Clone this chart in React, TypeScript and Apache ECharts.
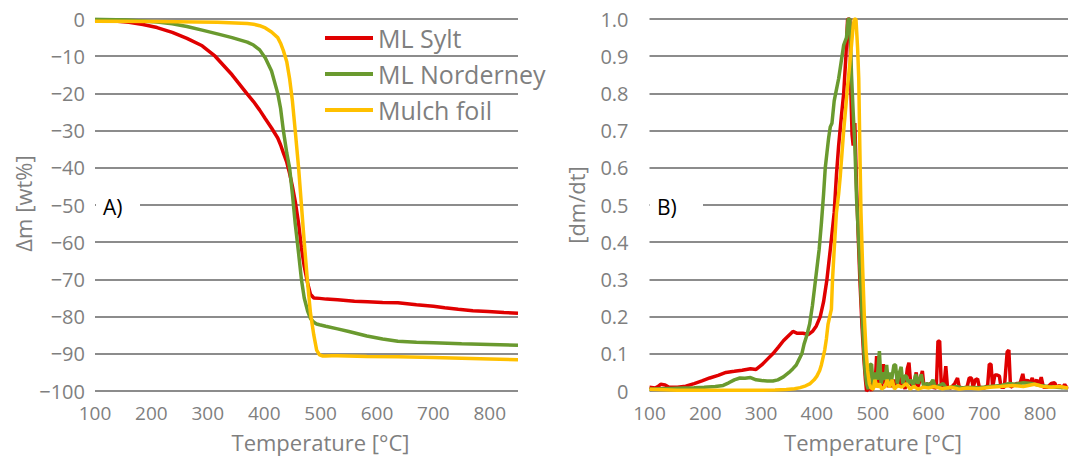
import React, { useEffect, useRef } from 'react';
import * as echarts from 'echarts';

const seriesNames = ['ML Sylt', 'ML Norderney', 'Mulch foil'];
const seriesColors = ['#E00000', '#6A9A2F', '#FFC000'];

// Panel A: mass loss [wt%] vs temperature [°C]
const tgaSylt: [number, number][] = [
  [100, -0.3], [130, -0.5], [160, -0.9], [185, -1.5], [210, -2.3], [237, -3.6], [263, -5.2], [290, -7.2],
  [313, -10.0], [343, -15.0], [369, -20.0], [381, -22.2], [392, -24.5], [402, -26.8], [413, -29.3],
  [424, -32.0], [429, -33.8], [434, -36.0], [440, -38.5], [445, -41.5], [450, -45.0], [455, -49.0],
  [461, -55.0], [466, -61.5], [471, -66.5], [477, -71.0], [482, -74.0], [488, -75.0], [498, -75.1],
  [510, -75.3], [530, -75.5], [560, -75.9], [583, -76.0], [610, -76.2], [637, -76.3], [670, -76.8],
  [700, -77.2], [720, -77.6], [744, -78.0], [770, -78.4], [797, -78.6], [825, -78.9], [850, -79.1],
];
const tgaNorderney: [number, number][] = [
  [100, -0.1], [157, -0.3], [210, -0.8], [237, -1.3], [263, -2.0], [290, -3.0], [317, -4.0], [343, -5.0],
  [370, -6.2], [381, -7.0], [392, -8.3], [402, -10.5], [413, -14.0], [424, -20.0], [429, -24.0],
  [434, -30.0], [440, -36.0], [445, -40.0], [450, -47.0], [455, -55.0], [461, -63.0], [466, -70.0],
  [471, -75.0], [477, -78.5], [482, -80.5], [488, -81.5], [493, -82.0], [498, -82.2], [509, -82.6],
  [530, -83.3], [550, -84.0], [582, -85.2], [610, -86.0], [637, -86.6], [670, -86.9], [700, -87.0],
  [750, -87.3], [800, -87.5], [850, -87.7],
];
const tgaMulch: [number, number][] = [
  [100, -0.6], [210, -0.7], [317, -0.9], [370, -1.2], [381, -1.4], [392, -1.8], [402, -2.4], [413, -3.5],
  [424, -5.0], [429, -6.5], [434, -8.5], [440, -11.5], [445, -16.0], [450, -22.0], [455, -30.0],
  [461, -40.0], [466, -50.0], [471, -60.0], [477, -71.0], [482, -79.0], [488, -85.0], [493, -89.0],
  [498, -90.3], [504, -90.6], [509, -90.6], [520, -90.5], [530, -90.5], [582, -90.7], [637, -90.8],
  [700, -91.0], [750, -91.2], [800, -91.4], [850, -91.6],
];

// Panel B: normalised mass-loss rate [dm/dt] vs temperature [°C]
const dtgSylt: [number, number][] = [
  [100, 0.01], [110, 0.008], [115, 0.012], [120, 0.018], [128, 0.016], [135, 0.01], [150, 0.01], [165, 0.013],
  [180, 0.02], [194, 0.027], [208, 0.035], [223, 0.042], [237, 0.05], [252, 0.053], [266, 0.056], [281, 0.06],
  [291, 0.058], [301, 0.07], [311, 0.085], [321, 0.1], [331, 0.118], [340, 0.135], [350, 0.15], [357, 0.16],
  [365, 0.155], [375, 0.155], [385, 0.152], [392, 0.16], [399, 0.175], [406, 0.2], [412, 0.24], [418, 0.3],
  [424, 0.38], [431, 0.48], [435, 0.58], [439, 0.66], [444, 0.74], [448, 0.8], [452, 0.9], [455, 1.0],
  [459, 1.0], [461, 0.8], [463, 0.69], [465, 0.66], [468, 0.72], [471, 0.55], [474, 0.42], [477, 0.3],
  [481, 0.17], [484, 0.09], [487, 0.03], [489, 0.0], [492, 0.005], [495, 0.02], [498, 0.0], [501, 0.05],
  [504, 0.01], [507, 0.094], [510, 0.02], [513, 0.06], [516, 0.01], [519, 0.072], [522, 0.02], [525, 0.05],
  [528, 0.01], [532, 0.04], [535, 0.01], [539, 0.03], [543, 0.01], [547, 0.045], [550, 0.01], [554, 0.03],
  [558, 0.005], [562, 0.06], [565, 0.076], [568, 0.02], [573, 0.01], [578, 0.05], [581, 0.01], [586, 0.035],
  [589, 0.054], [592, 0.01], [598, 0.015], [603, 0.02], [607, 0.01], [614, 0.008], [617, 0.134], [620, 0.134],
  [623, 0.01], [628, 0.02], [631, 0.067], [634, 0.01], [640, 0.008], [647, 0.02], [652, 0.035], [655, 0.01],
  [662, 0.008], [669, 0.01], [673, 0.035], [677, 0.035], [680, 0.01], [684, 0.03], [688, 0.033], [691, 0.01],
  [700, 0.008], [706, 0.015], [709, 0.072], [712, 0.072], [715, 0.01], [719, 0.043], [723, 0.043], [727, 0.04],
  [730, 0.01], [736, 0.01], [741, 0.105], [744, 0.11], [747, 0.01], [752, 0.015], [758, 0.02], [764, 0.02],
  [769, 0.046], [772, 0.02], [777, 0.03], [781, 0.02], [786, 0.035], [789, 0.02], [794, 0.03], [798, 0.015],
  [802, 0.037], [806, 0.01], [813, 0.01], [820, 0.02], [826, 0.022], [830, 0.01], [835, 0.015], [840, 0.008],
  [844, 0.018], [847, 0.01], [850, 0.012],
];
const dtgNorderney: [number, number][] = [
  [100, 0.005], [120, 0.006], [140, 0.007], [160, 0.008], [180, 0.009], [198, 0.01], [218, 0.012], [232, 0.015],
  [242, 0.022], [252, 0.03], [262, 0.035], [271, 0.034], [281, 0.036], [291, 0.03], [301, 0.028], [311, 0.027],
  [321, 0.027], [330, 0.03], [340, 0.038], [350, 0.05], [357, 0.06], [363, 0.07], [368, 0.085], [373, 0.1],
  [377, 0.126], [382, 0.15], [387, 0.18], [392, 0.23], [396, 0.28], [400, 0.33], [404, 0.38], [408, 0.45],
  [412, 0.53], [415, 0.6], [418, 0.64], [421, 0.68], [424, 0.71], [427, 0.72], [431, 0.78], [435, 0.81],
  [439, 0.84], [443, 0.88], [448, 0.93], [453, 0.95], [456, 1.0], [459, 1.0], [462, 0.85], [465, 0.75],
  [468, 0.66], [471, 0.52], [475, 0.4], [479, 0.26], [483, 0.14], [486, 0.06], [489, 0.02], [492, 0.005],
  [495, 0.07], [498, 0.072], [501, 0.01], [505, 0.05], [508, 0.03], [512, 0.107], [515, 0.02], [519, 0.05],
  [522, 0.03], [525, 0.07], [528, 0.02], [531, 0.05], [534, 0.03], [538, 0.07], [541, 0.07], [544, 0.02],
  [548, 0.05], [551, 0.065], [554, 0.02], [557, 0.04], [560, 0.04], [564, 0.02], [568, 0.03], [573, 0.015],
  [577, 0.045], [581, 0.02], [587, 0.045], [591, 0.015], [597, 0.02], [602, 0.015], [608, 0.03], [612, 0.01],
  [620, 0.015], [626, 0.02], [632, 0.008], [640, 0.01], [650, 0.012], [660, 0.008], [670, 0.01], [690, 0.009],
  [710, 0.012], [730, 0.015], [745, 0.02], [755, 0.018], [770, 0.022], [785, 0.02], [800, 0.015], [815, 0.012],
  [830, 0.01], [850, 0.008],
];
const dtgMulch: [number, number][] = [
  [100, 0.005], [150, 0.002], [200, 0.002], [250, 0.002], [300, 0.002], [325, 0.003], [345, 0.004], [360, 0.006],
  [370, 0.009], [380, 0.014], [388, 0.02], [395, 0.03], [400, 0.04], [405, 0.055], [408, 0.07], [411, 0.09],
  [414, 0.11], [417, 0.14], [420, 0.18], [423, 0.2], [426, 0.22], [428, 0.3], [431, 0.38], [435, 0.48],
  [439, 0.53], [442, 0.58], [445, 0.64], [448, 0.7], [451, 0.75], [455, 0.82], [459, 0.88], [462, 0.93],
  [465, 0.98], [467, 1.0], [470, 1.0], [473, 0.92], [475, 0.84], [477, 0.65], [479, 0.48], [482, 0.33],
  [485, 0.2], [488, 0.11], [491, 0.054], [494, 0.02], [497, 0.008], [501, 0.005], [504, 0.03], [508, 0.01],
  [512, 0.02], [516, 0.005], [522, 0.012], [526, 0.03], [530, 0.01], [535, 0.03], [539, 0.005], [545, 0.015],
  [552, 0.01], [560, 0.02], [567, 0.005], [574, 0.012], [581, 0.005], [591, 0.01], [600, 0.008], [610, 0.012],
  [625, 0.006], [640, 0.01], [655, 0.005], [670, 0.008], [690, 0.006], [710, 0.01], [730, 0.012], [750, 0.015],
  [770, 0.012], [790, 0.018], [805, 0.012], [820, 0.01], [835, 0.012], [850, 0.008],
];

const FONT = '"Open Sans", "Noto Sans", sans-serif';
const GREY = '#7f7f7f';

function xAxis(gridIndex: number) {
  return {
    type: 'value',
    gridIndex,
    min: 100,
    max: 850,
    interval: 100,
    axisLine: { show: false },
    axisTick: { show: false },
    splitLine: { show: false },
    axisLabel: {
      color: GREY,
      fontSize: 19,
      lineHeight: 20,
      fontFamily: FONT,
      margin: 12,
      formatter: (v: number) => (v === 850 ? '' : String(v)),
    },
  };
}

export default function App() {
  const ref = useRef<HTMLDivElement>(null);
  useEffect(() => {
    if (!ref.current) return;
    const chart = echarts.init(ref.current, null, { renderer: 'svg' });
    const tga = [tgaSylt, tgaNorderney, tgaMulch];
    const dtg = [dtgSylt, dtgNorderney, dtgMulch];
    const series: any[] = [];
    tga.forEach((d, i) =>
      series.push({
        type: 'line', name: seriesNames[i], xAxisIndex: 0, yAxisIndex: 0, data: d,
        showSymbol: false, symbol: 'none', color: seriesColors[i],
        lineStyle: { width: 3.5, color: seriesColors[i] }, z: 2 + i,
      })
    );
    dtg.forEach((d, i) =>
      series.push({
        type: 'line', name: seriesNames[i], xAxisIndex: 1, yAxisIndex: 1, data: d,
        showSymbol: false, symbol: 'none', color: seriesColors[i],
        lineStyle: { width: 3.5, color: seriesColors[i] }, z: 2 + i,
      })
    );
    const split = { show: true, lineStyle: { color: '#8c8c8c', width: 2 } };
    chart.setOption({
      animation: false,
      backgroundColor: '#ffffff',
      textStyle: { fontFamily: FONT },
      grid: [
        { left: 95, right: 1071 - 518, top: 19, bottom: 457 - 391 },
        { left: 649.5, right: 0, top: 19, bottom: 457 - 391 },
      ],
      xAxis: [xAxis(0), xAxis(1)],
      yAxis: [
        {
          type: 'value', gridIndex: 0, min: -100, max: 0, interval: 10,
          axisLine: { show: false }, axisTick: { show: false }, splitLine: split,
          axisLabel: {
            color: GREY, fontSize: 20, fontFamily: FONT, margin: 10,
            formatter: (v: number) => (v < 0 ? '\u2212' + Math.abs(v) : String(v)),
          },
        },
        {
          type: 'value', gridIndex: 1, min: 0, max: 1, interval: 0.1,
          axisLine: { show: false }, axisTick: { show: false }, splitLine: split,
          axisLabel: {
            color: GREY, fontSize: 20, fontFamily: FONT, margin: 21,
            formatter: (v: number) => (v === 0 ? '0' : v.toFixed(1)),
          },
        },
      ],
      legend: {
        data: seriesNames,
        orient: 'vertical',
        left: 325,
        top: 23,
        padding: 0,
        itemGap: 6,
        itemWidth: 48,
        itemHeight: 4,
        icon: 'rect',
        selectedMode: false,
        textStyle: { color: GREY, fontSize: 25, fontFamily: FONT, lineHeight: 30 },
      },
      graphic: [
        { type: 'rect', shape: { x: 96, y: 200, width: 44, height: 8 }, style: { fill: '#ffffff' }, z: 5 },
        { type: 'rect', shape: { x: 650, y: 200, width: 53, height: 8 }, style: { fill: '#ffffff' }, z: 5 },
        { type: 'text', x: 103, y: 207, z: 6, style: { text: 'A)', fill: '#000', fontSize: 21, fontFamily: FONT, verticalAlign: 'middle' } },
        { type: 'text', x: 657, y: 207, z: 6, style: { text: 'B)', fill: '#000', fontSize: 21, fontFamily: FONT, verticalAlign: 'middle' } },
        { type: 'text', x: 22.5, y: 203.5, rotation: Math.PI / 2, z: 6, style: { text: 'Δm [wt%]', fill: GREY, fontSize: 22, fontFamily: FONT, align: 'center', verticalAlign: 'middle' } },
        { type: 'text', x: 576, y: 205, rotation: Math.PI / 2, z: 6, style: { text: '[dm/dt]', fill: GREY, fontSize: 22, fontFamily: FONT, align: 'center', verticalAlign: 'middle' } },
        { type: 'text', x: 320.5, y: 442, z: 6, style: { text: 'Temperature [°C]', fill: GREY, fontSize: 22, lineHeight: 22, fontFamily: FONT, align: 'center', verticalAlign: 'middle' } },
        { type: 'text', x: 873, y: 442, z: 6, style: { text: 'Temperature [°C]', fill: GREY, fontSize: 22, lineHeight: 22, fontFamily: FONT, align: 'center', verticalAlign: 'middle' } },
      ],
      series,
    });
    return () => chart.dispose();
  }, []);
  return (
    <div
      ref={ref}
      style={{ position: 'fixed', left: 0, top: 0, width: 1071, height: 457, background: '#fff' }}
    />
  );
}
